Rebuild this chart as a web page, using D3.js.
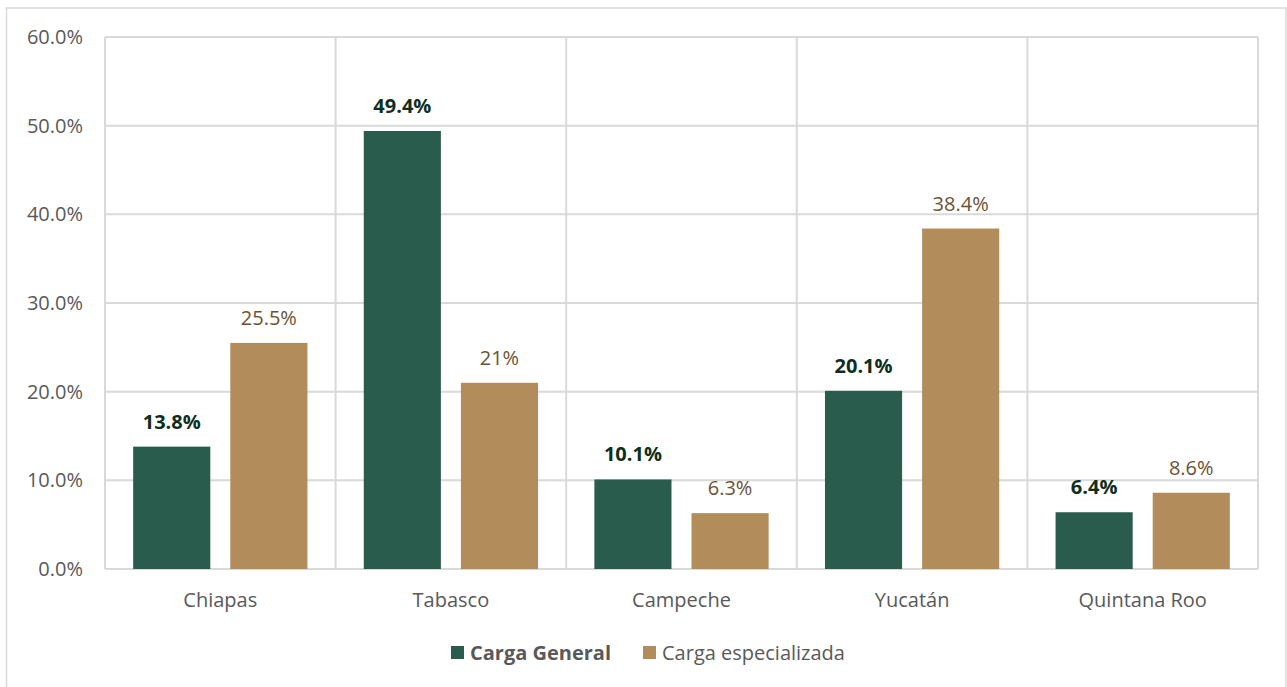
<!DOCTYPE html>
<html>
<head>
<meta charset="utf-8">
<script src="https://cdn.jsdelivr.net/npm/d3@7"></script>
<style>
  html, body { margin: 0; padding: 0; background: #ffffff; }
  svg { display: block; font-family: "Open Sans", "Noto Sans", sans-serif; }
</style>
</head>
<body>
<svg id="chart" width="1287" height="687"></svg>
<script>
// Share of cargo by state (percent)
const states = ["Chiapas", "Tabasco", "Campeche", "Yucatán", "Quintana Roo"];
const cargaGeneral = [13.8, 49.4, 10.1, 20.1, 6.4];
const cargaEspecializada = [25.5, 21, 6.3, 38.4, 8.6];
const labelsGeneral = ["13.8%", "49.4%", "10.1%", "20.1%", "6.4%"];
const labelsEspecializada = ["25.5%", "21%", "6.3%", "38.4%", "8.6%"];
const yTicks = [0, 10, 20, 30, 40, 50, 60];
const seriesNames = ["Carga General", "Carga especializada"];
const seriesColors = ["#295c4c", "#b28d5b"];
const labelColors = ["#0f2e20", "#6b5234"];

const svg = d3.select("#chart");
const plot = { left: 105, right: 1258, top: 37, bottom: 569 };
const gridColor = "#d9d9d9";
const fontSize = "20px";

// outer chart frame
svg.append("rect")
  .attr("x", 6.5).attr("y", 8).attr("width", 1279.5).attr("height", 690)
  .attr("fill", "none").attr("stroke", gridColor).attr("stroke-width", 1.5);

const x = d3.scaleBand().domain(states).range([plot.left, plot.right]).padding(0);
const xs = d3.scaleBand().domain([0, 1]).range([0, x.bandwidth()])
  .paddingInner(0.206).paddingOuter(0.29);
const y = d3.scaleLinear().domain([0, 60]).range([plot.bottom, plot.top]);

// horizontal gridlines
svg.append("g").selectAll("line").data(yTicks).join("line")
  .attr("x1", plot.left).attr("x2", plot.right)
  .attr("y1", d => y(d)).attr("y2", d => y(d))
  .attr("stroke", gridColor).attr("stroke-width", 2);

// vertical category separators
const seps = states.map(s => x(s)).concat([plot.right]);
svg.append("g").selectAll("line").data(seps).join("line")
  .attr("x1", d => d).attr("x2", d => d)
  .attr("y1", plot.top).attr("y2", plot.bottom)
  .attr("stroke", gridColor).attr("stroke-width", 2);

// y axis tick labels
const yAxis = d3.axisLeft(y).tickValues(yTicks).tickSize(0).tickPadding(22)
  .tickFormat(d => d.toFixed(1) + "%");
const ya = svg.append("g").attr("transform", `translate(${plot.left},0)`).call(yAxis);
ya.select(".domain").remove();
ya.selectAll("text").attr("fill", "#595959").style("font-size", fontSize)
  .style("font-family", "'Open Sans', sans-serif");

// x axis category labels
const xAxis = d3.axisBottom(x).tickSize(0).tickPadding(24);
const xa = svg.append("g").attr("transform", `translate(0,${plot.bottom})`).call(xAxis);
xa.select(".domain").remove();
xa.selectAll("text").attr("fill", "#595959").style("font-size", fontSize)
  .style("font-family", "'Open Sans', sans-serif");

const series = [cargaGeneral, cargaEspecializada];
const seriesLabels = [labelsGeneral, labelsEspecializada];

series.forEach((vals, si) => {
  const g = svg.append("g");
  g.selectAll("rect").data(vals).join("rect")
    .attr("x", (d, i) => x(states[i]) + xs(si))
    .attr("width", xs.bandwidth())
    .attr("y", d => y(d))
    .attr("height", d => y(0) - y(d))
    .attr("fill", seriesColors[si]);
  g.selectAll("text").data(vals).join("text")
    .attr("x", (d, i) => x(states[i]) + xs(si) + xs.bandwidth() / 2)
    .attr("y", d => y(d) - 18)
    .attr("text-anchor", "middle")
    .attr("fill", labelColors[si])
    .style("font-size", fontSize)
    .style("font-weight", si === 0 ? "700" : "400")
    .text((d, i) => seriesLabels[si][i]);
});

// legend
const legend = svg.append("g");
const legendItems = [
  { name: seriesNames[0], color: seriesColors[0], x: 451, bold: true },
  { name: seriesNames[1], color: seriesColors[1], x: 643, bold: false }
];
legendItems.forEach(it => {
  legend.append("rect").attr("x", it.x).attr("y", 646).attr("width", 13).attr("height", 13)
    .attr("fill", it.color);
  legend.append("text").attr("x", it.x + 19).attr("y", 660)
    .attr("fill", "#595959").style("font-size", fontSize)
    .style("font-weight", it.bold ? "700" : "400")
    .text(it.name);
});
</script>
</body>
</html>
